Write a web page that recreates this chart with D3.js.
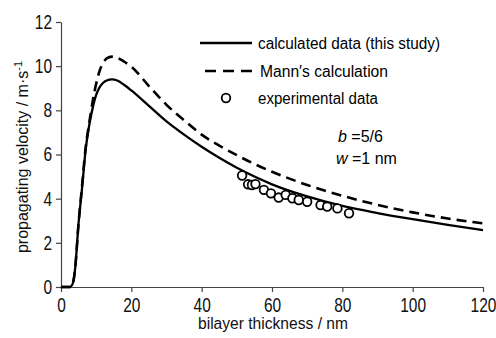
<!DOCTYPE html>
<html><head><meta charset="utf-8">
<script src="https://cdn.jsdelivr.net/npm/d3@7"></script>
<style>body{margin:0;background:#fff}svg{display:block}</style>
</head><body>
<svg id="c" width="496" height="338"></svg>
<script>
const xTicks=[0,20,40,60,80,100,120];
const yTicks=[0,2,4,6,8,10,12];
const calcX=[0,2.5,3.2,4,5,6,7,8,9,10,11,12,13,14.5,16,18,20,25,30,35,40,45,50,55,60,70,80,90,100,110,120];
const calcY=[0,0,0.1,0.8,2.9,4.5,6.2,7.3,8.1,8.7,9.05,9.25,9.35,9.4,9.35,9.15,8.9,8.2,7.5,6.9,6.35,5.85,5.4,5.0,4.65,4.1,3.67,3.35,3.07,2.81,2.58];
const mannX=[0,3,4,5,6,7,8,9,10,11,12,13,14.5,16,18,20,25,30,35,40,45,50,55,60,70,80,90,100,110,120];
const mannY=[0,0,0.8,2.9,4.6,6.3,7.4,8.4,9.2,9.8,10.15,10.35,10.43,10.38,10.2,9.98,9.1,8.25,7.55,6.9,6.4,5.97,5.57,5.22,4.62,4.13,3.72,3.38,3.1,2.88];
const expX=[51.5,53.2,54.3,55.3,57.7,59.7,61.9,63.9,65.8,67.6,70,73.8,75.7,78.6,81.9];
const expY=[5.05,4.65,4.62,4.66,4.4,4.24,4.05,4.17,4.02,3.94,3.86,3.71,3.64,3.56,3.34];

const svg=d3.select("#c");
const x=d3.scaleLinear().domain([0,120]).range([61,483]);
const y=d3.scaleLinear().domain([0,12]).range([287,22]);
const FONT="'Liberation Sans', Arial, sans-serif";

// axes
const xa=svg.append("g").attr("transform","translate(0,287)")
  .call(d3.axisBottom(x).tickValues(xTicks).tickSize(5).tickSizeOuter(0).tickPadding(4));
const ya=svg.append("g").attr("transform","translate(61,0)")
  .call(d3.axisLeft(y).tickValues(yTicks).tickSize(5).tickSizeOuter(0).tickPadding(4));
[xa,ya].forEach(a=>{
  a.select(".domain").attr("stroke","#444").attr("stroke-width",1.2);
  a.selectAll(".tick line").attr("stroke","#444").attr("stroke-width",1.2);
  a.selectAll(".tick text").attr("fill","#111").style("font-family",FONT).style("font-size","20px")
    .attr("textLength",d=>String(d).length*8.6).attr("lengthAdjust","spacingAndGlyphs");
});
xa.selectAll(".tick text").attr("dy","0.78em");

// lines
const mk=(xs,ys)=>xs.map((v,i)=>[v,ys[i]]);
const line=d3.line().x(d=>x(d[0])).y(d=>y(d[1])).curve(d3.curveMonotoneX);
svg.append("path").attr("d",line(mk(mannX,mannY))).attr("fill","none").attr("stroke","#000")
  .attr("stroke-width",2.6).attr("stroke-dasharray","10,6");
svg.append("path").attr("d",line(mk(calcX,calcY))).attr("fill","none").attr("stroke","#000")
  .attr("stroke-width",2.3);

// experimental points
svg.append("g").selectAll("circle").data(mk(expX,expY)).join("circle")
  .attr("cx",d=>x(d[0])).attr("cy",d=>y(d[1])).attr("r",4.3)
  .attr("fill","#fff").attr("stroke","#000").attr("stroke-width",1.8);

// legend
const lg=svg.append("g").style("font-family",FONT).style("font-size","16px").attr("fill","#000");
lg.append("line").attr("x1",200).attr("x2",252).attr("y1",43).attr("y2",43).attr("stroke","#000").attr("stroke-width",2.3);
lg.append("text").attr("x",258).attr("y",43).attr("dy","0.35em").attr("textLength",182).attr("lengthAdjust","spacingAndGlyphs").text("calculated data (this study)");
lg.append("line").attr("x1",205).attr("x2",252).attr("y1",71).attr("y2",71).attr("stroke","#000").attr("stroke-width",2.6).attr("stroke-dasharray","11,7");
lg.append("text").attr("x",260).attr("y",71).attr("dy","0.35em").attr("textLength",128).attr("lengthAdjust","spacingAndGlyphs").text("Mann\u2032s calculation");
lg.append("circle").attr("cx",226).attr("cy",98).attr("r",4.3).attr("fill","#fff").attr("stroke","#000").attr("stroke-width",1.8);
lg.append("text").attr("x",258).attr("y",98).attr("dy","0.35em").attr("textLength",120).attr("lengthAdjust","spacingAndGlyphs").text("experimental data");

// annotation
const an=svg.append("g").style("font-family",FONT).style("font-size","16px").attr("fill","#000");
const t1=an.append("text").attr("x",338).attr("y",136).attr("dy","0.35em");
t1.append("tspan").style("font-style","italic").text("b");
t1.append("tspan").text(" =5/6");
const t2=an.append("text").attr("x",336).attr("y",158).attr("dy","0.35em");
t2.append("tspan").style("font-style","italic").text("w");
t2.append("tspan").text(" =1 nm");

// axis titles
svg.append("text").attr("x",273).attr("y",323).attr("dy","0.35em").attr("text-anchor","middle")
  .style("font-family",FONT).style("font-size","16px").attr("fill","#111").attr("textLength",150).attr("lengthAdjust","spacingAndGlyphs")
  .text("bilayer thickness / nm");
const yt=svg.append("text").attr("transform","translate(22,157) rotate(-90)").attr("text-anchor","middle")
  .attr("dy","0.35em").style("font-family",FONT).style("font-size","16px").attr("fill","#111");
yt.append("tspan").text("propagating velocity / m\u00b7s");
yt.append("tspan").attr("dy","-0.5em").style("font-size","11px").text("-1");
</script>
</body></html>
